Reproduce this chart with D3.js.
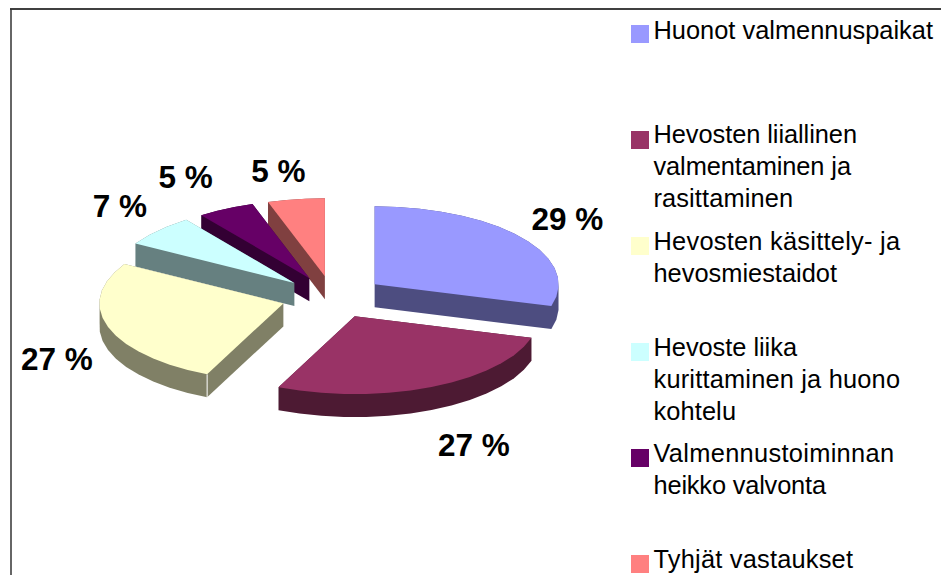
<!DOCTYPE html>
<html>
<head>
<meta charset="utf-8">
<script src="https://cdn.jsdelivr.net/npm/d3@7/dist/d3.min.js"></script>
<style>
html,body{margin:0;padding:0;background:#fff;overflow:hidden}
text{font-family:"Liberation Sans",Arial,sans-serif;fill:#000}
</style>
</head>
<body>
<svg id="chart" width="941" height="575"></svg>
<script>
// data
const categories = [
  ["Huonot valmennuspaikat"],
  ["Hevosten liiallinen","valmentaminen ja","rasittaminen"],
  ["Hevosten käsittely- ja","hevosmiestaidot"],
  ["Hevoste liika","kurittaminen ja huono","kohtelu"],
  ["Valmennustoiminnan","heikko valvonta"],
  ["Tyhjät vastaukset"]
];
const values = [29.49, 27.31, 26.6, 6.6, 5, 5];
const topColors = ["#9999ff","#993366","#ffffcc","#ccffff","#660066","#ff8080"];
const sideColors = ["#4d4d80","#4d1a33","#808066","#668080","#330033","#804040"];

// layout
const W = 941, H = 575;
const cx = 333, cy = 297, rx = 184, ry = 78, depth = 23, explodeX = 0.283, explodeY = 0.27;
const labelRadius = 1.62;
const labelNudgeX = [-4, 16.5, 8, 8, -12, -8];
const labelNudgeY = [-2, 33, 24, -6, -7.5, -1];
const legendSwatchTop = [25, 131, 237, 343, 449, 555];
const legendBaseline = [38.5, 143, 250, 356, 462, 568];
const legendLineEnds = [[934],[858,852,794],[901,838],[798,901,737],[895,827],[854]];
const legendX = 631, legendSwatch = 18, legendTextX = 653.5, legendLine = 32.2;

const svg = d3.select("#chart");
const sx = d3.scaleLinear().domain([-1, 1]).range([cx - rx, cx + rx]);
const sy = d3.scaleLinear().domain([-1, 1]).range([cy - ry, cy + ry]);

const pie = d3.pie().sort(null).value(d => d);
const arcs = pie(values).map((a, i) => ({...a, i}));
const line = d3.line();
const STEP = 7 * Math.PI / 180;

function outline(a) {
  const mid = (a.startAngle + a.endAngle) / 2;
  const ox = explodeX * Math.sin(mid), oy = -explodeY * Math.cos(mid);
  const pts = [[sx(ox), sy(oy)]];
  const n = Math.max(2, Math.round((a.endAngle - a.startAngle) / STEP));
  d3.range(n + 1).forEach(k => {
    const t = a.startAngle + (a.endAngle - a.startAngle) * k / n;
    pts.push([sx(ox + Math.sin(t)), sy(oy - Math.cos(t))]);
  });
  return pts;
}

// back to front
const drawOrder = [5, 4, 3, 2, 0, 1];
drawOrder.forEach(i => {
  const pts = outline(arcs[i]);
  const g = svg.append("g");
  const swept = pts.concat(pts.map(p => [p[0], p[1] + depth]));
  g.append("path").attr("d", line(d3.polygonHull(swept)) + "Z").attr("fill", sideColors[i]);
  g.append("path").attr("d", line(pts) + "Z").attr("fill", topColors[i]);
  if (i === 2) {
    const c = pts[1];
    g.append("line").attr("x1", c[0]).attr("x2", c[0]).attr("y1", c[1]).attr("y2", c[1] + depth)
      .attr("stroke", "#fff").attr("stroke-width", 1);
  }
});

// frame
svg.append("line").attr("x1", 10).attr("x2", W).attr("y1", 9).attr("y2", 9).attr("stroke", "#000").attr("stroke-width", 1.5);
svg.append("line").attr("x1", 11).attr("x2", 11).attr("y1", 9).attr("y2", H).attr("stroke", "#333").attr("stroke-width", 1.5);

// percentage labels
arcs.forEach(a => {
  const mid = (a.startAngle + a.endAngle) / 2;
  svg.append("text")
    .attr("x", sx(labelRadius * Math.sin(mid)) + labelNudgeX[a.i])
    .attr("y", sy(-labelRadius * Math.cos(mid)) + labelNudgeY[a.i] + 11)
    .attr("text-anchor", "middle")
    .attr("font-size", 31.5).attr("font-weight", "bold")
    .text(Math.round(a.value) + " %");
});

// legend
categories.forEach((lines, i) => {
  svg.append("rect").attr("x", legendX).attr("y", legendSwatchTop[i])
    .attr("width", legendSwatch).attr("height", legendSwatch).attr("fill", topColors[i]);
  lines.forEach((t, j) => {
    svg.append("text").attr("x", legendTextX).attr("y", legendBaseline[i] + j * legendLine)
      .attr("font-size", 25.4)
      .attr("textLength", legendLineEnds[i][j] - legendTextX - 1).attr("lengthAdjust", "spacing")
      .text(t);
  });
});
</script>
</body>
</html>
